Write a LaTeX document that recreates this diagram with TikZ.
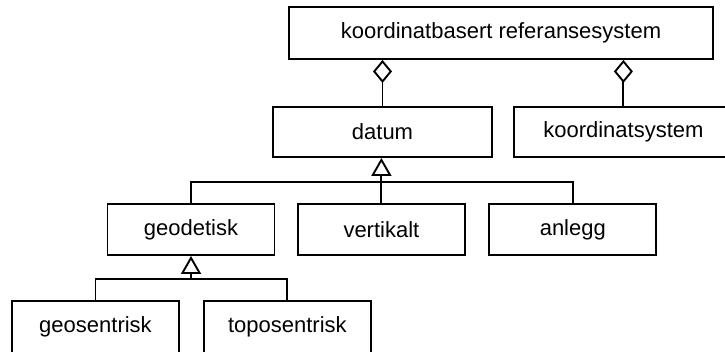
\documentclass[tikz,border=0pt]{standalone}
\usepackage{fontspec}
\setmainfont{Liberation Sans}
\usetikzlibrary{positioning,arrows.meta}

\begin{document}
\begin{tikzpicture}[x=1pt,y=-1pt,
        klasse/.style={draw, line width=1.9pt, inner sep=0pt,
            minimum width=167pt, minimum height=51pt,
            font=\fontsize{22}{26}\selectfont},
        linje/.style={line width=1.9pt},
        aggregering/.style={linje, -{Diamond[open,length=23pt,width=19pt]}},
        arv/.style={linje, -{Triangle[open,length=18pt,width=20pt]}}]
        \useasboundingbox (0,0) rectangle (725,352);
        \fill[white] (0,0) rectangle (725,352);

        \node[klasse, minimum width=424pt, minimum height=52pt] (refsys) at (501,33) {koordinatbasert referansesystem};
        \node[klasse, minimum width=219pt, minimum height=50pt] (datum) at (382.5,132) {datum};
        \node[klasse, minimum width=218pt, minimum height=50pt, right=20.5pt of datum] (koordsys) {koordinatsystem};
        \node[klasse] (geodetisk) at (191,229.5) {geodetisk};
        \node[klasse, right=21.5pt of geodetisk] (vertikalt) {vertikalt};
        \node[klasse, right=22.5pt of vertikalt] (anlegg) {anlegg};
        \node[klasse, minimum height=52pt] (geosentrisk) at (95.5,327) {geosentrisk};
        \node[klasse, minimum height=52pt, right=23pt of geosentrisk] (toposentrisk) {toposentrisk};

        \coordinate (skinne1) at (382,182);
        \coordinate (skinne2) at (191,279);

        \draw[aggregering] (datum.north) -- (datum.north |- refsys.south);
        \draw[aggregering] (koordsys.north) -- (koordsys.north |- refsys.south);

        \draw[linje] (geodetisk.north) |- (skinne1) -| (anlegg.north);
        \draw[arv] (vertikalt.north) -- (vertikalt.north |- datum.south);

        \draw[linje] (geosentrisk.north) |- (skinne2) -| (toposentrisk.north);
        \draw[arv] (skinne2) -- (geodetisk.south);
    \end{tikzpicture}
\end{document}
